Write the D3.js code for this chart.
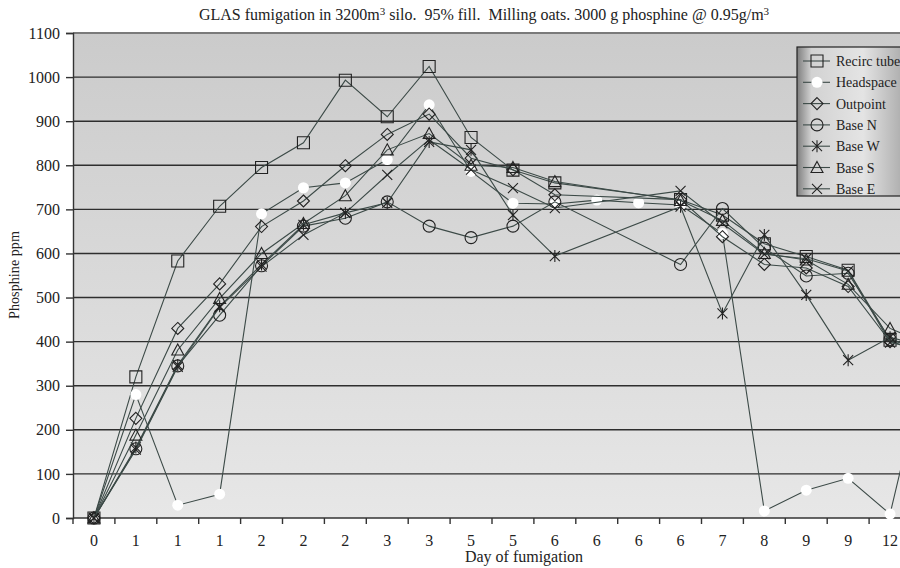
<!DOCTYPE html>
<html lang="en">
  <head>
    <meta charset="utf-8">
    <title>GLAS fumigation</title>
    <script type="text/javascript" src="https://d3js.org/d3.v7.min.js"></script>
    <style>
      body { margin: 0; background: #fff; }
      svg text { font-family: 'Liberation Serif', 'DejaVu Serif', serif; fill: #222; }
    </style>
  </head>
  <body>
    <div id="viz"></div>
    <script type="text/javascript">

    // categories (day of fumigation, repeated readings per day)
    var days = ["0","1","1","1","2","2","2","3","3","5","5","6","6","6","6","7","8","9","9","12","13"];
    var yTicks = [0,100,200,300,400,500,600,700,800,900,1000,1100];

    // ppm readings, null = no reading
    var recirc    = [0,320,583,707,795,851,993,910,1024,863,789,760,null,null,722,687,622,593,562,403,380];
    var headspace = [0,280,29,54,690,749,760,813,937,786,714,712,721,715,710,645,16,63,90,9,410];
    var outpoint  = [0,226,430,531,661,719,799,870,916,816,790,733,null,null,722,638,575,567,525,400,375];
    var baseN     = [0,157,345,460,572,662,680,717,662,636,662,717,null,null,575,702,612,549,555,405,380];
    var baseW     = [0,160,347,480,575,665,692,715,853,835,687,594,null,null,706,464,642,506,358,410,385];
    var baseS     = [0,188,381,498,600,668,731,835,872,800,795,763,null,null,720,675,600,585,530,430,390];
    var baseE     = [0,155,343,478,570,642,692,778,858,790,748,703,null,null,742,668,598,588,560,398,378];

    var seriesNames = ["Recirc tube","Headspace","Outpoint","Base N","Base W","Base S","Base E"];
    var seriesVals  = [recirc, headspace, outpoint, baseN, baseW, baseS, baseE];
    var seriesMark  = ["square","dot","diamond","circle","star","triangle","x"];

    var W = 900, H = 568;
    var svg = d3.select("#viz").append("svg")
      .attr("width", W).attr("height", H);

    var pLeft = 73, pTop = 33, pBottom = 518, step = 41.9;

    var x = d3.scaleBand()
      .domain(d3.range(days.length))
      .range([pLeft, pLeft + step * days.length])
      .padding(0);

    var y = d3.scaleLinear()
      .domain([0, 1100])
      .range([pBottom, pTop]);

    // plot background gradient
    var defs = svg.append("defs");
    var bg = defs.append("linearGradient").attr("id", "bg")
      .attr("x1", 0).attr("y1", 0).attr("x2", 0).attr("y2", 1);
    bg.append("stop").attr("offset", "0%").attr("stop-color", "#cbcbcb");
    bg.append("stop").attr("offset", "100%").attr("stop-color", "#e7e7e7");

    var lg = defs.append("linearGradient").attr("id", "legbg")
      .attr("x1", 0).attr("y1", 0).attr("x2", 1).attr("y2", 0);
    lg.append("stop").attr("offset", "0%").attr("stop-color", "#7e7e7e");
    lg.append("stop").attr("offset", "12%").attr("stop-color", "#d2d2d2");
    lg.append("stop").attr("offset", "55%").attr("stop-color", "#e4e4e4");
    lg.append("stop").attr("offset", "100%").attr("stop-color", "#9a9a9a");

    svg.append("rect")
      .attr("x", pLeft).attr("y", pTop)
      .attr("width", x.range()[1] - pLeft).attr("height", pBottom - pTop)
      .attr("fill", "url(#bg)");

    // gridlines
    svg.append("g").selectAll("line")
      .data(yTicks.filter(function(d){ return d > 0; }))
      .enter().append("line")
      .attr("x1", pLeft).attr("x2", x.range()[1])
      .attr("y1", function(d){ return y(d); })
      .attr("y2", function(d){ return y(d); })
      .attr("stroke", function(d){ return d == 1100 ? "#7a7a7a" : "#2e2e2e"; })
      .attr("stroke-width", function(d){ return d == 1100 ? 2 : 1.4; });

    // y axis
    var yaxis = d3.axisLeft(y).tickValues(yTicks).tickSize(7).tickPadding(6)
      .tickFormat(d3.format("d"));
    var gy = svg.append("g").attr("transform", "translate(" + pLeft + ",0)").call(yaxis);
    gy.select(".domain").attr("stroke", "#333").attr("stroke-width", 1.4);
    gy.selectAll(".tick line").attr("stroke", "#333").attr("stroke-width", 1.4);
    gy.selectAll(".tick text").style("font-size", "16px").attr("fill", "#222")
      .style("font-family", "'Liberation Serif', serif");

    // x axis: ticks sit on band edges
    var gx = svg.append("g").attr("transform", "translate(0," + pBottom + ")");
    gx.append("line").attr("x1", pLeft).attr("x2", x.range()[1])
      .attr("stroke", "#333").attr("stroke-width", 1.4);
    gx.selectAll(".xt").data(d3.range(days.length + 1)).enter().append("line")
      .attr("x1", function(i){ return pLeft + i * x.step(); })
      .attr("x2", function(i){ return pLeft + i * x.step(); })
      .attr("y1", 0).attr("y2", 6)
      .attr("stroke", "#333").attr("stroke-width", 1.4);
    gx.selectAll(".xl").data(days).enter().append("text")
      .attr("x", function(d, i){ return x(i) + x.bandwidth() / 2; })
      .attr("y", 28)
      .attr("text-anchor", "middle")
      .style("font-size", "16px")
      .text(function(d){ return d; });

    // axis titles
    svg.append("text")
      .attr("x", 524).attr("y", 562)
      .attr("text-anchor", "middle")
      .style("font-size", "16px")
      .text("Day of fumigation");

    svg.append("text")
      .attr("transform", "translate(19,275) rotate(-90)")
      .attr("text-anchor", "middle")
      .attr("textLength", 88).attr("lengthAdjust", "spacingAndGlyphs")
      .style("font-size", "14px")
      .text("Phosphine ppm");

    // title
    var title = svg.append("text")
      .attr("x", 484).attr("y", 20)
      .attr("text-anchor", "middle")
      .style("white-space", "pre")
      .style("font-size", "16px");
    title.append("tspan").text("GLAS fumigation in 3200m");
    title.append("tspan").attr("dy", -5).style("font-size", "11px").text("3");
    title.append("tspan").attr("dy", 5).text(" silo.  95% fill.  Milling oats. 3000 g phosphine @ 0.95g/m");
    title.append("tspan").attr("dy", -5).style("font-size", "11px").text("3");

    // marker shapes
    var markPath = {
      square: "M-6,-6H6V6H-6Z",
      diamond: "M0,-6L6,0L0,6L-6,0Z",
      circle: "M6,0A6,6,0,1,1,-6,0A6,6,0,1,1,6,0Z",
      triangle: "M0,-6L6,5H-6Z",
      star: "M-5,-5L5,5M-5,5L5,-5M0,-6V6",
      x: "M-5,-5L5,5M-5,5L5,-5",
      dot: "M5.5,0A5.5,5.5,0,1,1,-5.5,0A5.5,5.5,0,1,1,5.5,0Z"
    };

    function drawMark(g, type, cx, cy) {
      g.append("path")
        .attr("d", markPath[type])
        .attr("transform", "translate(" + cx + "," + cy + ")")
        .attr("fill", type == "dot" ? "#fff" : "none")
        .attr("stroke", type == "dot" ? "none" : "#222")
        .attr("stroke-width", 1.1);
    }

    var line = d3.line()
      .x(function(d){ return x(d.i) + x.bandwidth() / 2; })
      .y(function(d){ return y(d.v); });

    var plot = svg.append("g");
    seriesVals.forEach(function(vals, s) {
      var pts = vals.map(function(v, i){ return {i: i, v: v}; })
                    .filter(function(d){ return d.v != null; });
      var g = plot.append("g");
      g.append("path")
        .attr("d", line(pts))
        .attr("fill", "none")
        .attr("stroke", "#3c4a47")
        .attr("stroke-width", 1.1);
      pts.forEach(function(d){
        drawMark(g, seriesMark[s], x(d.i) + x.bandwidth() / 2, y(d.v));
      });
    });

    // legend
    var leg = svg.append("g").attr("transform", "translate(797,47)");
    leg.append("rect")
      .attr("width", 120).attr("height", 149)
      .attr("fill", "url(#legbg)")
      .attr("stroke", "#222").attr("stroke-width", 1.2);
    seriesNames.forEach(function(name, s) {
      var ly = 14 + s * 21.3;
      leg.append("line").attr("x1", 6).attr("x2", 33).attr("y1", ly).attr("y2", ly)
        .attr("stroke", "#3c4a47").attr("stroke-width", 1.1);
      drawMark(leg, seriesMark[s], 20, ly);
      leg.append("text").attr("x", 39).attr("y", ly + 5)
        .style("font-size", "14px")
        .text(name);
    });

    </script>
  </body>
</html>
